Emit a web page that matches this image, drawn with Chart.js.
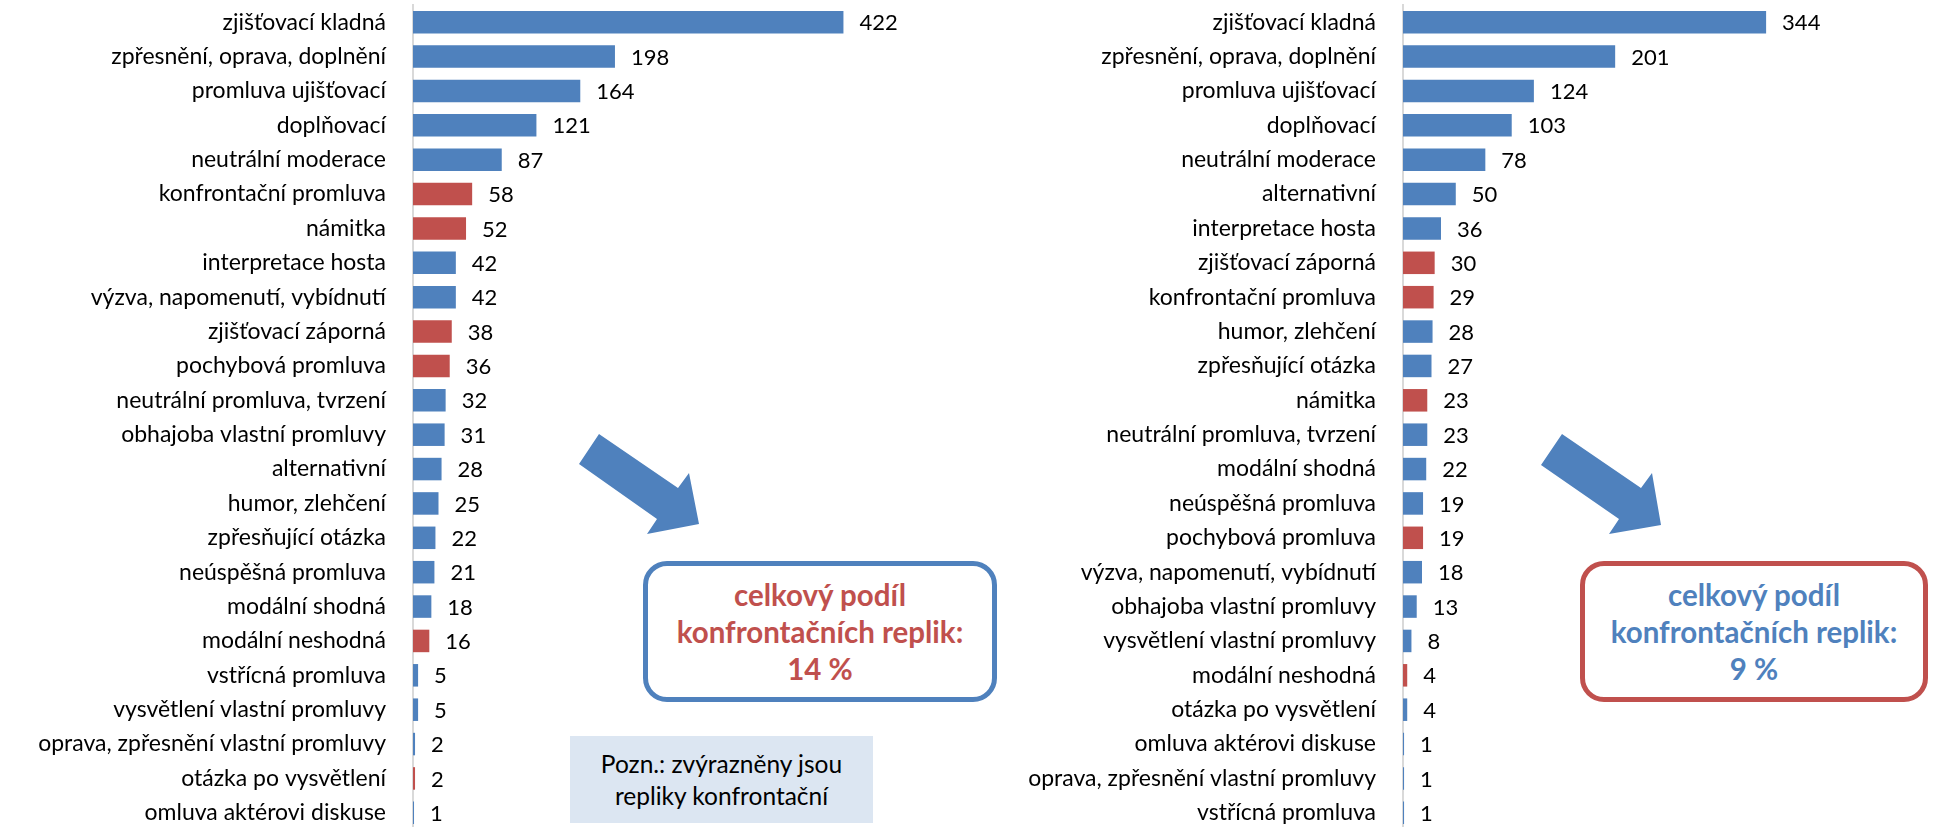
<!DOCTYPE html>
<html lang="cs">
<head>
<meta charset="utf-8">
<title>Repliky</title>
<script src="https://cdn.jsdelivr.net/npm/chart.js@4/dist/chart.umd.min.js"></script>
<style>
  html, body { margin: 0; padding: 0; background: #fff; width: 1939px; height: 827px; overflow: hidden; }
  #wrap { position: relative; width: 1939px; height: 827px; }
  .panel { position: absolute; top: 0; height: 835px; }
  #p1 { left: 0; width: 960px; }
  #p2 { left: 980px; width: 959px; }
  .sumbox { position: absolute; box-sizing: border-box; border-width: 5px; border-style: solid; border-radius: 24px;
            background: #fff; display: flex; align-items: center; justify-content: center; text-align: center;
            font-family: Lato, sans-serif; font-weight: bold; font-size: 29.5px; line-height: 37px; }
  #box1 { left: 643px; top: 561px; width: 354px; height: 141px; border-color: #4F81BD; color: #C0504D; }
  #box2 { left: 1580px; top: 561px; width: 348px; height: 141px; border-color: #C0504D; color: #4F81BD; }
  #note { position: absolute; left: 570px; top: 736px; width: 303px; height: 87px; background: #DCE6F2;
          display: flex; align-items: center; justify-content: center; text-align: center;
          font-family: Lato, sans-serif; font-size: 24.5px; line-height: 32px; color: #000; }
  svg { position: absolute; left: 0; top: 0; }
</style>
</head>
<body>
<div id="wrap">
  <div class="panel" id="p1"><canvas id="c1"></canvas></div>
  <div class="panel" id="p2"><canvas id="c2"></canvas></div>
  <svg width="1939" height="827">
    <polygon points="599,434 678,488 689,473 699,524 647,534 657,519 579,464" fill="#4F81BD"/>
    <polygon points="1562,434 1641,488 1652,473 1661,525 1609,534 1619,519 1541,465" fill="#4F81BD"/>
  </svg>
  <div class="sumbox" id="box1"><div>celkový podíl<br>konfrontačních replik:<br>14 %</div></div>
  <div class="sumbox" id="box2"><div>celkový podíl<br>konfrontačních replik:<br>9 %</div></div>
  <div id="note"><div>Pozn.: zvýrazněny jsou<br>repliky konfrontační</div></div>
</div>
<script>
// ----- data: left panel -----
const leftLabels = [
  'zjišťovací kladná', 'zpřesnění, oprava, doplnění', 'promluva ujišťovací', 'doplňovací',
  'neutrální moderace', 'konfrontační promluva', 'námitka', 'interpretace hosta',
  'výzva, napomenutí, vybídnutí', 'zjišťovací záporná', 'pochybová promluva',
  'neutrální promluva, tvrzení', 'obhajoba vlastní promluvy', 'alternativní', 'humor, zlehčení',
  'zpřesňující otázka', 'neúspěšná promluva', 'modální shodná', 'modální neshodná',
  'vstřícná promluva', 'vysvětlení vlastní promluvy', 'oprava, zpřesnění vlastní promluvy',
  'otázka po vysvětlení', 'omluva aktérovi diskuse'
];
const leftValues = [422, 198, 164, 121, 87, 58, 52, 42, 42, 38, 36, 32, 31, 28, 25, 22, 21, 18, 16, 5, 5, 2, 2, 1];
const leftConfront = [0, 0, 0, 0, 0, 1, 1, 0, 0, 1, 1, 0, 0, 0, 0, 0, 0, 0, 1, 0, 0, 0, 1, 0];

// ----- data: right panel -----
const rightLabels = [
  'zjišťovací kladná', 'zpřesnění, oprava, doplnění', 'promluva ujišťovací', 'doplňovací',
  'neutrální moderace', 'alternativní', 'interpretace hosta', 'zjišťovací záporná',
  'konfrontační promluva', 'humor, zlehčení', 'zpřesňující otázka', 'námitka',
  'neutrální promluva, tvrzení', 'modální shodná', 'neúspěšná promluva', 'pochybová promluva',
  'výzva, napomenutí, vybídnutí', 'obhajoba vlastní promluvy', 'vysvětlení vlastní promluvy',
  'modální neshodná', 'otázka po vysvětlení', 'omluva aktérovi diskuse',
  'oprava, zpřesnění vlastní promluvy', 'vstřícná promluva'
];
const rightValues = [344, 201, 124, 103, 78, 50, 36, 30, 29, 28, 27, 23, 23, 22, 19, 19, 18, 13, 8, 4, 4, 1, 1, 1];
const rightConfront = [0, 0, 0, 0, 0, 0, 0, 1, 1, 0, 0, 1, 0, 0, 0, 1, 0, 0, 0, 1, 0, 0, 0, 0];

const leftAxisMax = 450;
const rightAxisMax = 360;

const BLUE = '#4F81BD';
const RED = '#C0504D';
const FONT = 'Lato, sans-serif';

const valueLabels = {
  id: 'valueLabels',
  afterDatasetsDraw(chart) {
    const ctx = chart.ctx;
    const meta = chart.getDatasetMeta(0);
    const data = chart.data.datasets[0].data;
    ctx.save();
    ctx.font = '22px ' + FONT;
    ctx.fillStyle = '#000';
    ctx.textAlign = 'left';
    ctx.textBaseline = 'middle';
    meta.data.forEach((bar, i) => {
      ctx.fillText(String(data[i]), bar.x + 16, bar.y + 1);
    });
    ctx.restore();
  }
};

function makeChart(id, labels, values, flags, xMax, axisWidth, padRight) {
  return new Chart(document.getElementById(id), {
    type: 'bar',
    data: {
      labels: labels,
      datasets: [{
        data: values,
        backgroundColor: flags.map(f => f ? RED : BLUE),
        borderWidth: 0,
        barPercentage: 0.655,
        categoryPercentage: 1.0
      }]
    },
    options: {
      indexAxis: 'y',
      responsive: true,
      maintainAspectRatio: false,
      animation: false,
      layout: { padding: { top: 5, bottom: 5, left: 0, right: padRight } },
      plugins: { legend: { display: false }, tooltip: { enabled: false } },
      scales: {
        x: { display: false, min: 0, max: xMax },
        y: {
          afterFit(scale) {
            scale.width = axisWidth;
            scale.paddingTop = 0;
            scale.paddingBottom = 0;
          },
          grid: { display: false, drawTicks: false },
          border: { display: true, color: '#D9D9D9', width: 2 },
          ticks: { color: '#000', padding: 27, font: { family: FONT, size: 23 }, autoSkip: false }
        }
      }
    },
    plugins: [valueLabels]
  });
}

makeChart('c1', leftLabels, leftValues, leftConfront, leftAxisMax, 413, 88);
makeChart('c2', rightLabels, rightValues, rightConfront, rightAxisMax, 423, 156);
</script>
</body>
</html>
